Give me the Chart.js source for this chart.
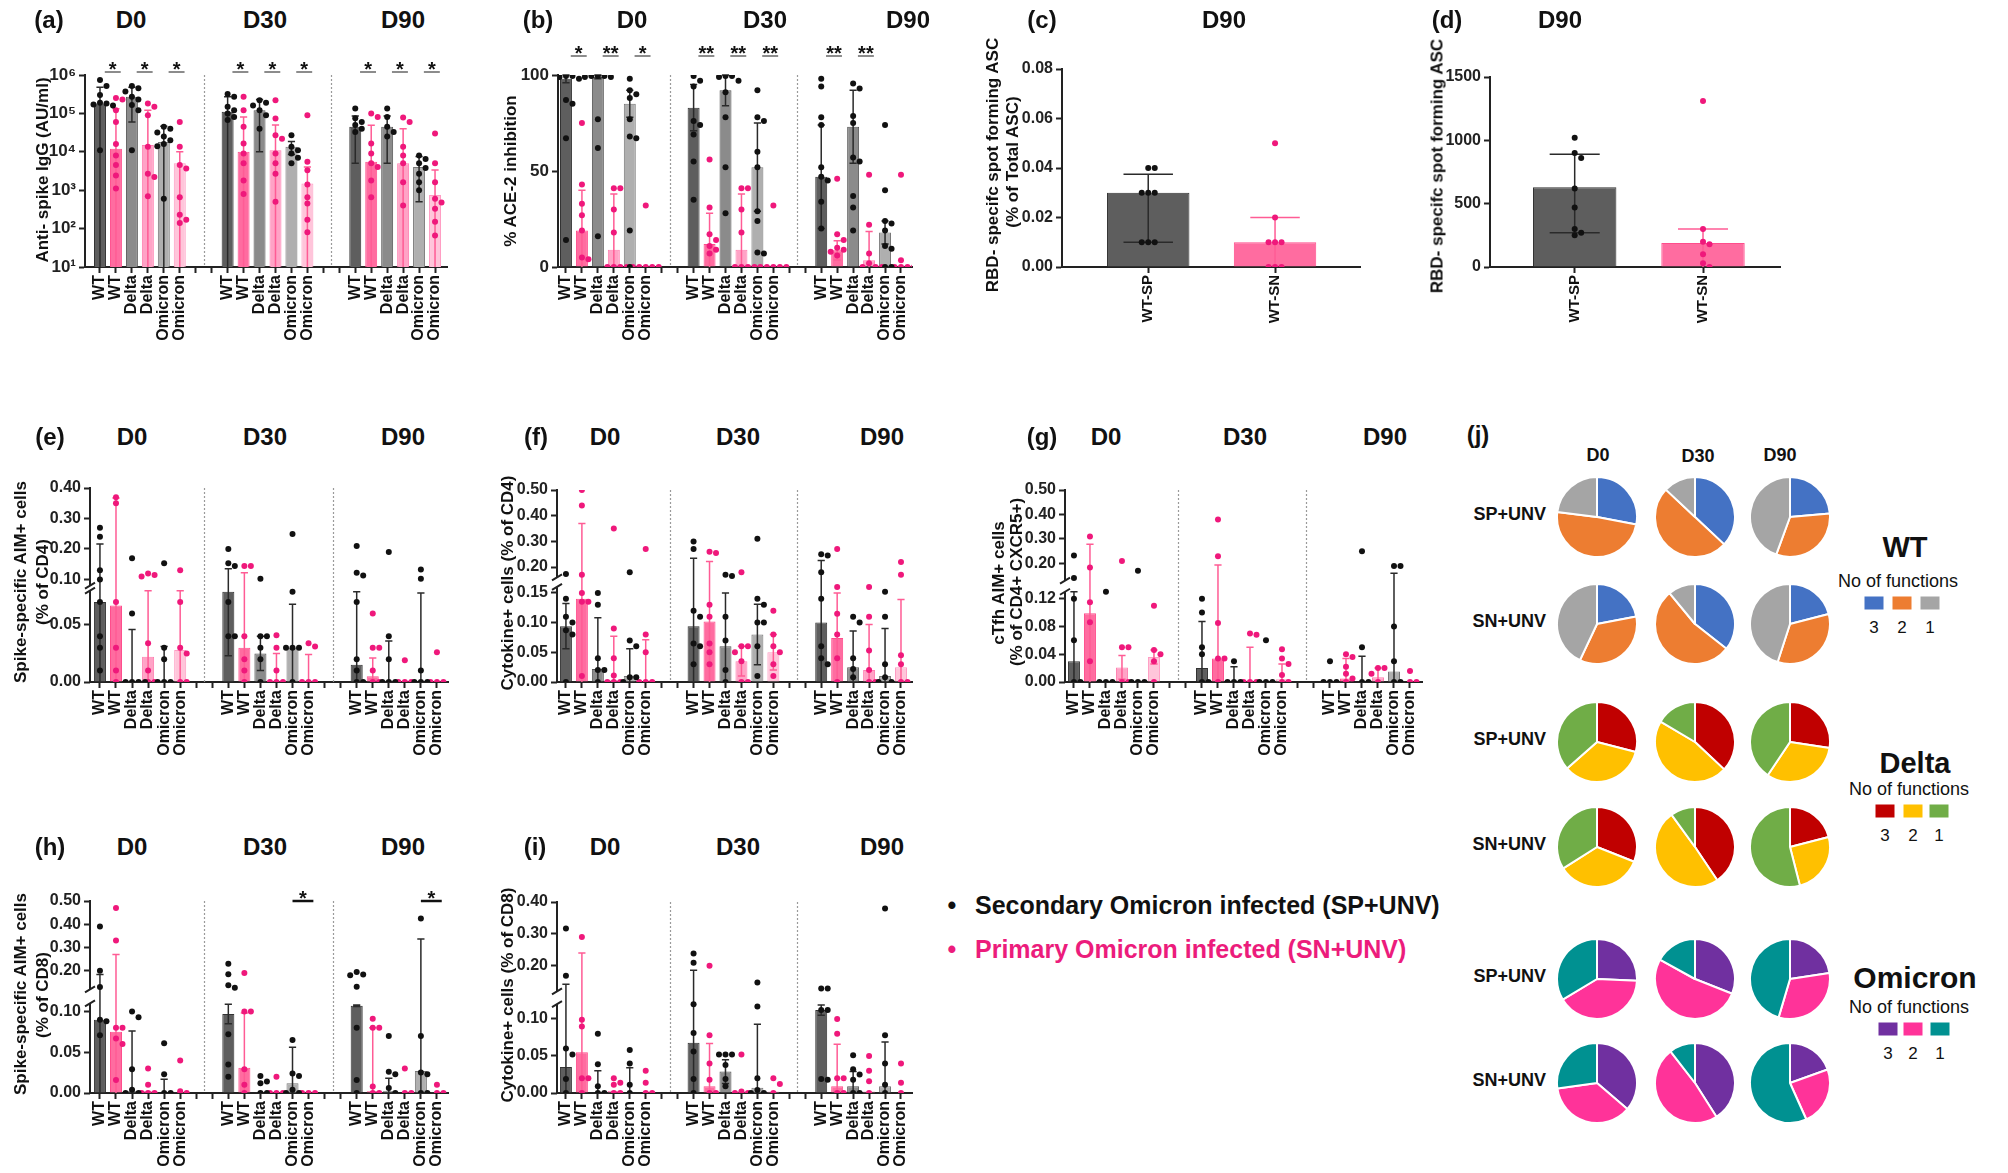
<!DOCTYPE html>
<html lang="en">
<head>
<meta charset="utf-8">
<title>Antibody and T cell responses after Omicron infection</title>
<script src="https://cdn.jsdelivr.net/npm/chart.js@4.4.1/dist/chart.umd.min.js"></script>
<style>
  html, body { margin: 0; padding: 0; background: #fff; overflow: hidden; }
  #fig { position: relative; width: 2008px; height: 1173px; overflow: hidden;
         font-family: "Liberation Sans", Arial, Helvetica, sans-serif; color: #111; }
  #fig canvas { position: absolute; }
  .txt { position: absolute; white-space: nowrap; line-height: 1; }
  .sw { position: absolute; width: 19px; height: 13px; transform: translate(-50%, -50%); }
</style>
</head>
<body>
<div id="fig"></div>
<script>
// ---------- categories ----------
const timepoints = ['D0', 'D30', 'D90'];
const variants = ['WT', 'WT', 'Delta', 'Delta', 'Omicron', 'Omicron'];   // SP then SN for each variant
const ascGroups = ['WT-SP', 'WT-SN'];
const fnLabels = ['3', '2', '1'];

// ---------- (a) anti-spike IgG (AU/ml) ----------
const aMean = [1.8e5, 1.2e4, 2.7e5, 1.5e4, 1.8e4, 5e3, 1.1e5, 1e4, 1.2e5, 1.1e4, 1.35e4, 1.5e3, 4.5e4, 5.5e3, 4.5e4, 5e3, 4e3, 7.5e2];
const aSD = [3e5, 1.2e5, 2.1e5, 1.05e5, 2.8e4, 5e3, 1.6e5, 7e4, 1.1e5, 3.9e4, 5e3, 2.5e3, 4e4, 4.4e4, 4e4, 3.5e4, 3.5e3, 2.6e3];
const aPoints = [
  [7.4e5, 5.2e5, 3e5, 1.9e5, 1.8e5, 1.7e5, 1.6e5, 1.1e4],
  [2.5e5, 2.3e5, 1.2e5, 6e4, 1.6e4, 8e3, 4.5e3, 2.4e3, 1.1e3],
  [5.2e5, 4.5e5, 3.7e5, 2.7e5, 2.3e5, 1.65e5, 1.2e5, 1.1e4],
  [1.8e5, 1.5e5, 9e4, 1.35e4, 2.7e3, 2.2e3, 7e2],
  [4.5e4, 4e4, 3.2e4, 2.5e4, 2e4, 1.6e4, 1.4e4, 6e2],
  [6e4, 1.35e4, 4.5e3, 3.7e3, 6.6e2, 2.3e2, 1.7e2, 1.4e2],
  [3.2e5, 2.7e5, 1.5e5, 1.2e5, 1e5, 8e4, 6.7e4],
  [2.7e5, 1.2e5, 4.5e4, 1.65e4, 9e3, 5e3, 1.8e3, 8e2],
  [2.2e5, 1.9e5, 1.6e5, 1.2e5, 9e4, 4e4],
  [2.2e5, 7.4e4, 2.7e4, 2.2e4, 9e3, 5e3, 2.7e3, 5e2],
  [2.7e4, 1.35e4, 1.1e4, 9e3, 7e3, 5e3],
  [9e4, 5.5e3, 3.3e3, 1.4e3, 6.6e2, 4.5e2, 1.7e2, 8e1],
  [1.35e5, 7.5e4, 6e4, 5e4, 4e4, 3.3e4],
  [1e5, 8e4, 1.65e4, 9e3, 5e3, 4e3, 1.8e3, 6.6e2],
  [1.35e5, 8e4, 4.5e4, 3.3e4, 2.5e4],
  [7.8e4, 6e4, 1.35e4, 8e3, 5e3, 1.6e3, 4e2],
  [8e3, 6.5e3, 5e3, 3.8e3, 2.7e3, 1.6e3, 1e3],
  [3e4, 5e3, 1.6e3, 6e2, 4.8e2, 3.3e2, 1.5e2, 6.6e1]
];
const aTicks = [10, 100, 1e3, 1e4, 1e5, 1e6];
const aTickLabels = ['10¹', '10²', '10³', '10⁴', '10⁵', '10⁶'];
const aSig = [[0, 0, '*'], [0, 2, '*'], [0, 4, '*'], [1, 0, '*'], [1, 2, '*'], [1, 4, '*'], [2, 0, '*'], [2, 2, '*'], [2, 4, '*']];

// ---------- (b) % ACE-2 inhibition ----------
const bMean = [98, 19, 99, 9, 85, 0, 83, 12, 92, 9, 52, 0, 47, 8.7, 73, 3.5, 18, 0];
const bSD = [2, 21, 1, 29, 7, 0, 12, 16, 8, 29, 23, 0, 27, 5, 19, 15, 6, 0];
const bPoints = [
  [99.5, 99.5, 99, 98, 97, 87, 85, 67, 14],
  [75, 43, 33, 27, 19, 5, 4],
  [99.5, 99.5, 99.5, 99, 99, 77, 62, 16],
  [41, 41, 30, 18, 0, 0, 0, 0],
  [98, 92, 90, 88, 77, 68, 67, 19, 0],
  [32, 0, 0, 0, 0, 0],
  [99.5, 97, 94, 76, 74, 69, 55, 35],
  [56, 31, 17, 14, 11, 9, 7],
  [99.5, 99.5, 99, 97, 91, 78, 52, 28],
  [41, 41, 30, 18, 0, 0, 0, 0],
  [92, 78, 76, 60, 52, 29, 24, 7.5, 7],
  [32, 0, 0, 0, 0, 0],
  [98, 94, 78, 74, 52, 47, 45, 34, 20],
  [46, 17, 14, 10, 9, 8, 6],
  [95.6, 93, 78.6, 75, 57, 55, 37, 31, 19],
  [48, 22, 7, 2, 0, 0, 0],
  [74, 40, 24, 22.6, 19, 11, 9.5, 0, 0],
  [48, 3.5, 0, 0, 0, 0]
];
const bTicks = [0, 50, 100];
const bSig = [[0, 0, '*'], [0, 2, '**'], [0, 4, '*'], [1, 0, '**'], [1, 2, '**'], [1, 4, '**'], [2, 0, '**'], [2, 2, '**']];

// ---------- (c) RBD-specific ASC, % of total ----------
const cMean = [0.03, 0.01];
const cLow = [0.01, 0];
const cHigh = [0.0375, 0.02];
const cPoints = [[0.04, 0.04, 0.03, 0.03, 0.03, 0.01, 0.01, 0.01], [0.05, 0.02, 0.01, 0.01, 0.01, 0, 0, 0]];
const cTicks = [0, 0.02, 0.04, 0.06, 0.08];

// ---------- (d) RBD-specific ASC, spots ----------
const dMean = [630, 190];
const dLow = [270, 0];
const dHigh = [890, 300];
const dPoints = [[1020, 900, 860, 620, 470, 300, 270, 250], [1310, 300, 200, 180, 100, 30, 0]];
const dTicks = [0, 500, 1000, 1500];

// ---------- (e) spike-specific AIM+ (% of CD4) ----------
const eMean = [0.07, 0.067, 0.001, 0.022, 0.001, 0.028, 0.079, 0.03, 0.025, 0.001, 0.03, 0.001, 0.015, 0.005, 0.001, 0, 0, 0];
const eSD = [0.146, 0.30, 0.045, 0.058, 0.03, 0.052, 0.056, 0.092, 0.015, 0.024, 0.038, 0.023, 0.064, 0.016, 0.035, 0, 0.078, 0];
const ePoints = [
  [0.27, 0.24, 0.13, 0.10, 0.07, 0.04, 0.03, 0.01],
  [0.37, 0.35, 0.07, 0.03, 0.01, 0],
  [0.17, 0.06, 0, 0, 0, 0],
  [0.12, 0.115, 0.11, 0.034, 0.01, 0, 0],
  [0.153, 0.03, 0.02, 0, 0, 0],
  [0.13, 0.07, 0.03, 0.025, 0, 0],
  [0.2, 0.153, 0.144, 0.07, 0.04, 0.04],
  [0.144, 0.144, 0.04, 0.02, 0.01, 0],
  [0.102, 0.04, 0.04, 0.03, 0.02, 0],
  [0.041, 0.03, 0.01, 0, 0, 0],
  [0.249, 0.079, 0.03, 0.03, 0.03, 0],
  [0.034, 0.031, 0, 0, 0],
  [0.21, 0.122, 0.113, 0.07, 0.02, 0.01, 0, 0],
  [0.06, 0.03, 0.03, 0.01, 0, 0],
  [0.19, 0.04, 0.02, 0, 0, 0],
  [0.019, 0, 0, 0],
  [0.133, 0.102, 0.01, 0, 0, 0],
  [0.026, 0, 0, 0]
];
const eTicks = [0, 0.05, 0.10, 0.20, 0.30, 0.40];

// ---------- (f) cytokine+ (% of CD4) ----------
const fMean = [0.094, 0.14, 0.022, 0.003, 0.01, 0, 0.094, 0.102, 0.06, 0.035, 0.08, 0.05, 0.1, 0.074, 0.025, 0.02, 0.01, 0.025];
const fSD = [0.038, 0.23, 0.086, 0.074, 0.046, 0.071, 0.14, 0.12, 0.09, 0.025, 0.051, 0.03, 0.126, 0.076, 0.061, 0.077, 0.08, 0.114];
const fPoints = [
  [0.173, 0.14, 0.11, 0.10, 0.087, 0.08, 0],
  [0.5, 0.44, 0.17, 0.15, 0.135, 0.135, 0.01],
  [0.15, 0.13, 0.04, 0.02, 0.02, 0],
  [0.35, 0.09, 0.04, 0.011, 0, 0, 0],
  [0.18, 0.07, 0.06, 0.008, 0.008, 0],
  [0.27, 0.08, 0.05, 0, 0, 0],
  [0.3, 0.27, 0.12, 0.11, 0.065, 0.06, 0.03],
  [0.26, 0.255, 0.13, 0.11, 0.065, 0.05, 0.03],
  [0.17, 0.165, 0.11, 0.07, 0.02, 0],
  [0.18, 0.06, 0.06, 0.05, 0.035, 0, 0],
  [0.31, 0.14, 0.13, 0.1, 0.1, 0.06, 0.01],
  [0.12, 0.08, 0.06, 0.05, 0.03, 0.01],
  [0.25, 0.245, 0.18, 0.14, 0.06, 0.04, 0.03],
  [0.27, 0.16, 0.115, 0.08, 0.04, 0],
  [0.11, 0.10, 0.04, 0.022, 0.008],
  [0.16, 0.11, 0.053, 0.02, 0, 0],
  [0.152, 0.11, 0.03, 0.008, 0, 0],
  [0.22, 0.17, 0.045, 0.03, 0, 0]
];
const fTicks = [0, 0.05, 0.10, 0.15, 0.20, 0.30, 0.40, 0.50];

// ---------- (g) cTfh AIM+ (% of CD4+ CXCR5+) ----------
const gMean = [0.03, 0.099, 0, 0.021, 0, 0.036, 0.02, 0.034, 0, 0, 0, 0.004, 0, 0.005, 0, 0.007, 0.015, 0];
const gSD = [0.1, 0.18, 0, 0.017, 0, 0.01, 0.067, 0.16, 0.022, 0.05, 0, 0.022, 0, 0.029, 0.037, 0.013, 0.145, 0];
const gPoints = [
  [0.233, 0.141, 0.12, 0.06, 0, 0],
  [0.31, 0.184, 0.115, 0.086, 0.03],
  [0.13, 0, 0, 0],
  [0.21, 0.05, 0.05, 0, 0],
  [0.17, 0, 0, 0],
  [0.11, 0.046, 0.04, 0.03, 0],
  [0.12, 0.1, 0.05, 0.04, 0, 0],
  [0.38, 0.23, 0.085, 0.034, 0.034, 0],
  [0.03, 0, 0, 0],
  [0.07, 0.068, 0, 0, 0],
  [0.06, 0, 0, 0],
  [0.047, 0.034, 0.026, 0.01, 0, 0],
  [0.03, 0, 0, 0],
  [0.04, 0.036, 0.022, 0.012, 0.005, 0],
  [0.25, 0.05, 0, 0],
  [0.02, 0.02, 0.012, 0],
  [0.19, 0.19, 0.08, 0.03, 0, 0],
  [0.016, 0, 0]
];
const gTicks = [0, 0.04, 0.08, 0.12, 0.20, 0.30, 0.40, 0.50];

// ---------- (h) spike-specific AIM+ (% of CD8) ----------
const hMean = [0.09, 0.075, 0.002, 0.002, 0, 0.001, 0.097, 0.031, 0.001, 0, 0.012, 0, 0.107, 0.002, 0.002, 0, 0.027, 0.001];
const hSD = [0.094, 0.195, 0.074, 0, 0.017, 0, 0.012, 0.067, 0, 0, 0.044, 0, 0.001, 0.078, 0.016, 0, 0.31, 0];
const hPoints = [
  [0.39, 0.2, 0.13, 0.09, 0.088, 0.071],
  [0.47, 0.33, 0.08, 0.08, 0.067, 0.06, 0.016],
  [0.1, 0.093, 0.029, 0.004, 0, 0],
  [0.03, 0.01, 0, 0, 0],
  [0.061, 0.023, 0, 0],
  [0.04, 0.002, 0],
  [0.23, 0.185, 0.138, 0.127, 0.072, 0.035, 0.02],
  [0.19, 0.1, 0.1, 0.029, 0.01, 0],
  [0.021, 0.014, 0.012, 0, 0],
  [0.02, 0, 0, 0],
  [0.065, 0.024, 0.021, 0.004, 0, 0],
  [0, 0, 0],
  [0.195, 0.184, 0.181, 0.131, 0.08, 0.016, 0],
  [0.091, 0.08, 0.08, 0.008, 0, 0],
  [0.07, 0.026, 0.023, 0.006, 0],
  [0.03, 0, 0],
  [0.425, 0.07, 0.025, 0.023, 0, 0],
  [0.01, 0, 0]
];
const hTicks = [0, 0.05, 0.10, 0.20, 0.30, 0.40, 0.50];
const hSig = [[1, 4, '*'], [2, 4, '*']];

// ---------- (i) cytokine+ (% of CD8) ----------
const iMean = [0.035, 0.055, 0, 0.003, 0, 0, 0.068, 0.009, 0.029, 0.002, 0.007, 0.002, 0.112, 0.009, 0.009, 0.002, 0.009, 0];
const iSD = [0.107, 0.185, 0.03, 0, 0.034, 0, 0.118, 0.058, 0.016, 0, 0.086, 0, 0.007, 0.057, 0.02, 0, 0.06, 0];
const iPoints = [
  [0.317, 0.169, 0.06, 0.052, 0.019, 0],
  [0.29, 0.099, 0.09, 0.02, 0.02, 0],
  [0.08, 0.039, 0.009, 0, 0],
  [0.02, 0.014, 0.011, 0, 0],
  [0.058, 0.04, 0.011, 0],
  [0.03, 0.014, 0, 0],
  [0.239, 0.21, 0.12, 0.081, 0.056, 0.019, 0],
  [0.2, 0.078, 0.04, 0.018, 0, 0],
  [0.052, 0.052, 0.052, 0.038, 0.019, 0.009],
  [0.052, 0.002, 0, 0],
  [0.148, 0.117, 0.02, 0.004, 0, 0],
  [0.02, 0.012, 0],
  [0.129, 0.129, 0.112, 0.112, 0.019, 0.018],
  [0.1, 0.08, 0.02, 0.02, 0, 0],
  [0.051, 0.032, 0.025, 0.018, 0, 0],
  [0.05, 0.03, 0.016, 0],
  [0.38, 0.078, 0.04, 0.011, 0],
  [0.04, 0.014, 0]
];
const iTicks = [0, 0.05, 0.10, 0.20, 0.30, 0.40];

// ---------- (j) share of cells with 3 / 2 / 1 functions, per time point ----------
const wtSP = [[0.28, 0.49, 0.23], [0.37, 0.50, 0.13], [0.236, 0.32, 0.444]];
const wtSN = [[0.22, 0.35, 0.43], [0.356, 0.534, 0.11], [0.21, 0.34, 0.45]];
const deltaSP = [[0.29, 0.345, 0.365], [0.37, 0.465, 0.165], [0.274, 0.32, 0.406]];
const deltaSN = [[0.31, 0.35, 0.34], [0.406, 0.494, 0.10], [0.21, 0.25, 0.54]];
const omiSP = [[0.257, 0.407, 0.336], [0.31, 0.52, 0.17], [0.226, 0.32, 0.454]];
const omiSN = [[0.363, 0.365, 0.272], [0.41, 0.485, 0.105], [0.195, 0.238, 0.567]];

// ---------- styling ----------
const FONT = '"Liberation Sans", Arial, Helvetica, sans-serif';
Chart.defaults.font.family = FONT;
Chart.defaults.color = '#111';

const fig = document.getElementById('fig');
const barFill = ['#5e5e5e', '#ff6ca0', '#8b8b8b', '#ffa3c6', '#afafaf', '#ffc5da'];
const barEdge = ['#333333', '#ff4d8c', '#555555', '#ff7fb0', '#777777', '#ff9cc3'];
const dotSP = '#111111';
const dotSN = '#ef187b';
const wtColors = ['#4472c4', '#ed7d31', '#a5a5a5'];
const deltaColors = ['#c00000', '#ffc000', '#70ad47'];
const omiColors = ['#7030a0', '#ff3399', '#009191'];

// 3 time points x 6 bars, two empty slots between time points
const slotOf = k => Math.floor(k / 6) * 8 + (k % 6);
const slotLabels = Array.from({length: 22}, (_, s) => (s % 8 < 6 ? variants[s % 8] : ''));
const sigSlots = list => list.map(([g, i, mark]) => [g * 8 + i, g * 8 + i + 1, mark]);
const fmt2 = v => v.toFixed(2);

// value -> axis units for a y axis with a break (lower part, gap, upper part)
function brokenAxis(lowTop, highBottom, top, f1, f2) {
  return v => v <= lowTop ? v / lowTop * f1
    : v >= highBottom ? f2 + (v - highBottom) / (top - highBottom) * (1 - f2)
    : f1 + (v - lowTop) / (highBottom - lowTop) * (f2 - f1);
}

// small horizontal offsets (px) so that dots with close values don't overlap
function spread(ys) {
  const steps = [0, 6.5, -6.5, 3.3, -3.3, 9.8, -9.8, 13, -13];
  const done = [];
  return ys.map(y => {
    let dx = 0;
    for (const c of steps) {
      if (done.every(q => Math.abs(q.y - y) >= 6 || Math.abs(q.dx - c) >= 6)) { dx = c; break; }
    }
    done.push({y, dx});
    return dx;
  });
}

function addText(txt, x, y, size, opts = {}) {
  const d = document.createElement('div');
  d.className = 'txt';
  d.textContent = txt;
  const tx = opts.align === 'right' ? '-100%' : opts.align === 'left' ? '0' : '-50%';
  const rot = opts.rotate ? ' rotate(-90deg)' : '';
  d.style.cssText += `left:${x}px;top:${y}px;font-size:${size}px;font-weight:${opts.weight || 'bold'};` +
    `color:${opts.color || '#111'};transform:translate(${tx},-50%)${rot};`;
  fig.appendChild(d);
}

function decor(p, T) {
  return {
    id: 'decor',
    beforeDatasetsDraw(chart) {
      const {ctx, chartArea: ca, scales: {x}} = chart;
      ctx.save();
      ctx.strokeStyle = '#9a9a9a';
      ctx.lineWidth = 1.2;
      ctx.setLineDash([2, 2]);
      (p.seps || []).forEach(v => {
        const px = Math.round(x.getPixelForValue(v)) + 0.5;
        ctx.beginPath(); ctx.moveTo(px, ca.top); ctx.lineTo(px, ca.bottom); ctx.stroke();
      });
      ctx.restore();
    },
    afterDatasetDraw(chart, args) {
      if (args.index !== 0) return;
      const {ctx, scales: {x, y}} = chart;
      const bw = args.meta.data.length ? args.meta.data[0].width : 10;
      ctx.save();
      ctx.lineWidth = 1.5;
      p.mean.forEach((m, k) => {
        let lo, hi;
        if (p.high) { lo = p.low[k]; hi = p.high[k]; }
        else { if (!p.sd[k]) return; lo = m - p.sd[k]; hi = m + p.sd[k]; }
        const capLo = lo > p.yMin;
        lo = Math.max(lo, p.yMin);
        const cx = x.getPixelForValue(p.slot(k));
        const yh = y.getPixelForValue(T(hi));
        const yl = y.getPixelForValue(T(lo));
        const cw = bw * 0.3;
        ctx.strokeStyle = k % 2 ? '#ff5c95' : '#2a2a2a';
        ctx.beginPath();
        ctx.moveTo(cx, yl); ctx.lineTo(cx, yh);
        ctx.moveTo(cx - cw, yh); ctx.lineTo(cx + cw, yh);
        if (capLo) { ctx.moveTo(cx - cw, yl); ctx.lineTo(cx + cw, yl); }
        ctx.stroke();
      });
      ctx.restore();
    },
    afterDraw(chart) {
      const {ctx, chartArea: ca, scales: {x, y}} = chart;
      ctx.save();
      if (p.brk) {
        const y1 = y.getPixelForValue(p.brk[3]);
        const y2 = y.getPixelForValue(p.brk[4]);
        const xl = ca.left;
        ctx.strokeStyle = '#222';
        ctx.lineWidth = 2;
        ctx.beginPath();
        ctx.moveTo(xl, ca.bottom + 1); ctx.lineTo(xl, y1);
        ctx.moveTo(xl, y2); ctx.lineTo(xl, ca.top - 1);
        ctx.moveTo(xl - 5, y1 + 3); ctx.lineTo(xl + 5, y1 - 3);
        ctx.moveTo(xl - 5, y2 + 3); ctx.lineTo(xl + 5, y2 - 3);
        ctx.stroke();
      }
      (p.sig || []).forEach(([s1, s2, mark]) => {
        const x1 = x.getPixelForValue(s1 + p.sigShift[0]);
        const x2 = x.getPixelForValue(s2 + p.sigShift[1]);
        const yl = ca.top + p.sigDy;
        ctx.strokeStyle = p.sigColor;
        ctx.lineWidth = p.sigWidth;
        ctx.beginPath(); ctx.moveTo(x1, yl); ctx.lineTo(x2, yl); ctx.stroke();
        ctx.fillStyle = '#111';
        ctx.font = 'bold 20px ' + FONT;
        ctx.textAlign = 'center';
        ctx.textBaseline = 'alphabetic';
        ctx.fillText(mark, (x1 + x2) / 2, yl + 4);
      });
      ctx.restore();
    }
  };
}

function barPanel(p) {
  const {box, area} = p;
  p.slot = p.slot || slotOf;
  const canvas = document.createElement('canvas');
  canvas.width = box.width;
  canvas.height = box.height;
  canvas.style.left = box.left + 'px';
  canvas.style.top = box.top + 'px';
  fig.appendChild(canvas);

  const T = p.brk ? brokenAxis(...p.brk.slice(0, 2), p.yMax, ...p.brk.slice(3)) : (v => v);
  const axLo = p.log ? Math.log10(p.yMin) : T(p.yMin);
  const axHi = p.log ? Math.log10(p.yMax) : T(p.yMax);
  const toFrac = v => ((p.log ? Math.log10(Math.max(v, p.yMin)) : T(v)) - axLo) / (axHi - axLo);
  const plotH = area.bottom - area.top;
  const ppu = (area.right - area.left) / (p.xMax - p.xMin);

  const bars = [], fills = [], edges = [], sp = [], sn = [];
  p.mean.forEach((m, k) => {
    const s = p.slot(k);
    bars.push({x: s, y: T(m)});
    fills.push(barFill[k % 6]);
    edges.push(barEdge[k % 6]);
    const vals = p.points[k];
    const dx = spread(vals.map(v => toFrac(v) * plotH));
    vals.forEach((v, j) => (k % 2 ? sn : sp).push({x: s + dx[j] / ppu, y: T(v)}));
  });

  new Chart(canvas, {
    type: 'bar',
    data: {
      datasets: [
        {type: 'bar', data: bars, backgroundColor: fills, borderColor: edges, borderWidth: 1,
         barPercentage: p.barPct || 0.75, categoryPercentage: 1, order: 2},
        {type: 'scatter', data: sp, pointRadius: 3, pointBackgroundColor: dotSP, pointBorderWidth: 0, order: 0},
        {type: 'scatter', data: sn, pointRadius: 3, pointBackgroundColor: dotSN, pointBorderWidth: 0, order: 0}
      ]
    },
    options: {
      responsive: false,
      animation: false,
      events: [],
      layout: {padding: {left: 0, bottom: 0, top: area.top - box.top, right: box.left + box.width - area.right}},
      plugins: {legend: {display: false}, tooltip: {enabled: false}},
      scales: {
        x: {
          type: 'linear', min: p.xMin, max: p.xMax, offset: false,
          afterBuildTicks: ax => { ax.ticks = p.xLabels.map((_, i) => ({value: i})); },
          afterFit: s => { s.height = box.top + box.height - area.bottom; },
          ticks: {callback: (v, i) => p.xLabels[i], autoSkip: false, minRotation: 90, maxRotation: 90,
                  padding: 2, color: '#111', font: {size: p.xFont || 16, weight: 'bold'}},
          grid: {offset: false, drawOnChartArea: false, drawTicks: true, tickLength: 6, tickWidth: 2, tickColor: '#222'},
          border: {display: true, color: '#222', width: 2}
        },
        y: {
          type: p.log ? 'logarithmic' : 'linear',
          min: p.log ? p.yMin : T(p.yMin),
          max: p.log ? p.yMax : T(p.yMax),
          afterBuildTicks: ax => { ax.ticks = p.yTicks.map(v => ({value: T(v)})); },
          afterFit: s => { s.width = area.left - box.left; },
          ticks: {callback: (v, i) => p.yTickLabels[i], autoSkip: false, padding: 3, color: '#222',
                  font: {size: p.tickFont || 16, weight: 'bold'}},
          grid: {drawOnChartArea: false, drawTicks: true, tickLength: 6, tickWidth: 2, tickColor: '#222'},
          border: {display: !p.brk, color: '#222', width: 2},
          title: {display: false}
        }
      }
    },
    plugins: [decor(p, T)]
  });

  // y axis title, written beside the canvas so long titles are not squeezed
  p.yTitle.forEach(([txt, x, y]) => addText(txt, x, y, 17, {rotate: true}));
}

// ---------- row 1 ----------
barPanel({
  box: {left: 30, top: 45, width: 440, height: 300}, area: {left: 85, top: 75, right: 447, bottom: 267},
  xMin: -0.94, xMax: 21.75, xLabels: slotLabels, seps: [6.5, 14.5],
  log: true, yMin: 10, yMax: 1e6, yTicks: aTicks, yTickLabels: aTickLabels, tickFont: 17,
  yTitle: [['Anti- spike IgG (AU/ml)', 42, 170]],
  mean: aMean, sd: aSD, points: aPoints,
  sig: sigSlots(aSig), sigDy: -3, sigShift: [0.3, 0.3], sigColor: '#666', sigWidth: 1.5
});
barPanel({
  box: {left: 496, top: 30, width: 440, height: 315}, area: {left: 558, top: 75, right: 912, bottom: 267},
  xMin: -0.5, xMax: 21.69, xLabels: slotLabels, seps: [6.5, 14.5],
  yMin: 0, yMax: 100, yTicks: bTicks, yTickLabels: bTicks.map(String), tickFont: 17,
  yTitle: [['% ACE-2 inhibition', 510, 171]],
  mean: bMean, sd: bSD, points: bPoints,
  sig: sigSlots(bSig), sigDy: -19, sigShift: [0.3, 0.3], sigColor: '#666', sigWidth: 1.5
});
barPanel({
  box: {left: 975, top: 50, width: 410, height: 290}, area: {left: 1062, top: 69, right: 1360, bottom: 267},
  xMin: -0.68, xMax: 1.67, xLabels: ascGroups, xFont: 15, slot: k => k, barPct: 0.65,
  yMin: 0, yMax: 0.08, yTicks: cTicks, yTickLabels: cTicks.map(fmt2), tickFont: 16,
  yTitle: [['RBD- specifc spot forming ASC', 992, 165], ['(% of Total ASC)', 1012, 162]],
  mean: cMean, low: cLow, high: cHigh, points: cPoints
});
barPanel({
  box: {left: 1423, top: 55, width: 385, height: 285}, area: {left: 1490, top: 77, right: 1780, bottom: 267},
  xMin: -0.66, xMax: 1.6, xLabels: ascGroups, xFont: 15, slot: k => k, barPct: 0.65,
  yMin: 0, yMax: 1500, yTicks: dTicks, yTickLabels: dTicks.map(String), tickFont: 16,
  yTitle: [['RBD- specifc spot forming ASC', 1437, 166]],
  mean: dMean, low: dLow, high: dHigh, points: dPoints
});

// ---------- row 2 ----------
barPanel({
  box: {left: 5, top: 468, width: 473, height: 292}, area: {left: 90, top: 488, right: 448, bottom: 682},
  xMin: -0.62, xMax: 21.69, xLabels: slotLabels, seps: [6.5, 14.5],
  brk: [0.08, 0.08, 0, 0.471, 0.497], yMin: 0, yMax: 0.40, yTicks: eTicks, yTickLabels: eTicks.map(fmt2),
  yTitle: [['Spike-specific AIM+ cells', 20, 582], ['(% of CD4)', 42, 582]],
  mean: eMean, sd: eSD, points: ePoints
});
barPanel({
  box: {left: 493, top: 468, width: 445, height: 292}, area: {left: 557, top: 490, right: 912, bottom: 682},
  xMin: -0.56, xMax: 21.69, xLabels: slotLabels, seps: [6.5, 14.5],
  brk: [0.16, 0.16, 0, 0.495, 0.545], yMin: 0, yMax: 0.50, yTicks: fTicks, yTickLabels: fTicks.map(fmt2),
  yTitle: [['Cytokine+ cells (% of CD4)', 507, 583]],
  mean: fMean, sd: fSD, points: fPoints
});
barPanel({
  box: {left: 982, top: 468, width: 465, height: 292}, area: {left: 1065, top: 490, right: 1422, bottom: 682},
  xMin: -0.56, xMax: 21.75, xLabels: slotLabels, seps: [6.5, 14.5],
  brk: [0.13, 0.13, 0, 0.47, 0.528], yMin: 0, yMax: 0.50, yTicks: gTicks, yTickLabels: gTicks.map(fmt2),
  yTitle: [['cTfh AIM+ cells', 998, 583], ['(% of CD4+ CXCR5+)', 1016, 582]],
  mean: gMean, sd: gSD, points: gPoints
});

// ---------- row 3 ----------
barPanel({
  box: {left: 5, top: 878, width: 473, height: 292}, area: {left: 90, top: 901, right: 448, bottom: 1093},
  xMin: -0.62, xMax: 21.69, xLabels: slotLabels, seps: [6.5, 14.5],
  brk: [0.11, 0.12, 0, 0.467, 0.54], yMin: 0, yMax: 0.50, yTicks: hTicks, yTickLabels: hTicks.map(fmt2),
  yTitle: [['Spike-specific AIM+ cells', 20, 994], ['(% of CD8)', 42, 995]],
  mean: hMean, sd: hSD, points: hPoints,
  sig: sigSlots(hSig), sigDy: 0, sigShift: [0, 0.3], sigColor: '#111', sigWidth: 2.5
});
barPanel({
  box: {left: 493, top: 878, width: 445, height: 292}, area: {left: 557, top: 902, right: 912, bottom: 1093},
  xMin: -0.56, xMax: 21.69, xLabels: slotLabels, seps: [6.5, 14.5],
  brk: [0.12, 0.12, 0, 0.465, 0.532], yMin: 0, yMax: 0.40, yTicks: iTicks, yTickLabels: iTicks.map(fmt2),
  yTitle: [['Cytokine+ cells (% of CD8)', 507, 995]],
  mean: iMean, sd: iSD, points: iPoints
});

// ---------- panel letters and time point headings ----------
const heads = [
  ['(a)', 49, 20], [timepoints[0], 131, 20], [timepoints[1], 265, 20], [timepoints[2], 403, 20],
  ['(b)', 538, 20], [timepoints[0], 632, 20], [timepoints[1], 765, 20], [timepoints[2], 908, 20],
  ['(c)', 1042, 20], [timepoints[2], 1224, 20],
  ['(d)', 1447, 20], [timepoints[2], 1560, 20],
  ['(e)', 50, 437], [timepoints[0], 132, 437], [timepoints[1], 265, 437], [timepoints[2], 403, 437],
  ['(f)', 536, 437], [timepoints[0], 605, 437], [timepoints[1], 738, 437], [timepoints[2], 882, 437],
  ['(g)', 1042, 437], [timepoints[0], 1106, 437], [timepoints[1], 1245, 437], [timepoints[2], 1385, 437],
  ['(j)', 1478, 435],
  ['(h)', 50, 847], [timepoints[0], 132, 847], [timepoints[1], 265, 847], [timepoints[2], 403, 847],
  ['(i)', 535, 847], [timepoints[0], 605, 847], [timepoints[1], 738, 847], [timepoints[2], 882, 847]
];
heads.forEach(([t, x, y]) => addText(t, x, y, 24));

// ---------- group legend ----------
addText('•', 952, 905, 25);
addText('Secondary Omicron infected (SP+UNV)', 975, 905, 25, {align: 'left'});
addText('•', 952, 949, 25, {color: '#ec1c7c'});
addText('Primary Omicron infected (SN+UNV)', 975, 949, 25, {align: 'left', color: '#ec1c7c'});

// ---------- (j) pies ----------
function pie(vals, colors, cx, cy) {
  const c = document.createElement('canvas');
  c.width = 82; c.height = 82;
  c.style.left = (cx - 41) + 'px';
  c.style.top = (cy - 41) + 'px';
  fig.appendChild(c);
  new Chart(c, {
    type: 'pie',
    data: {labels: fnLabels, datasets: [{data: vals, backgroundColor: colors, borderColor: '#fff', borderWidth: 2, hoverOffset: 0}]},
    options: {responsive: false, animation: false, events: [], plugins: {legend: {display: false}, tooltip: {enabled: false}}}
  });
}

const pieX = [1597, 1695, 1790];
const pieRows = [
  [wtSP, wtColors, 517, 'SP+UNV'], [wtSN, wtColors, 624, 'SN+UNV'],
  [deltaSP, deltaColors, 742, 'SP+UNV'], [deltaSN, deltaColors, 847, 'SN+UNV'],
  [omiSP, omiColors, 979, 'SP+UNV'], [omiSN, omiColors, 1083, 'SN+UNV']
];
pieRows.forEach(([rows, colors, y, name]) => {
  rows.forEach((vals, i) => pie(vals, colors, pieX[i], y));
  addText(name, 1546, y - 3, 18, {align: 'right'});
});
addText(timepoints[0], 1598, 455, 18);
addText(timepoints[1], 1698, 456, 18);
addText(timepoints[2], 1780, 455, 18);

function fnLegend(title, size, tx, ty, colors, xs, sy) {
  addText(title, tx, ty, size);
  addText('No of functions', xs[1] - 4, sy - 22, 18, {weight: 'normal'});
  colors.forEach((c, i) => {
    const d = document.createElement('div');
    d.className = 'sw';
    d.style.left = xs[i] + 'px';
    d.style.top = sy + 'px';
    d.style.background = c;
    fig.appendChild(d);
    addText(fnLabels[i], xs[i], sy + 24, 17, {weight: 'normal'});
  });
}
fnLegend('WT', 29, 1905, 547, wtColors, [1874, 1902, 1930], 603);
fnLegend('Delta', 29, 1915, 763, deltaColors, [1885, 1913, 1939], 811);
fnLegend('Omicron', 30, 1915, 978, omiColors, [1888, 1913, 1940], 1029);
</script>
</body>
</html>
